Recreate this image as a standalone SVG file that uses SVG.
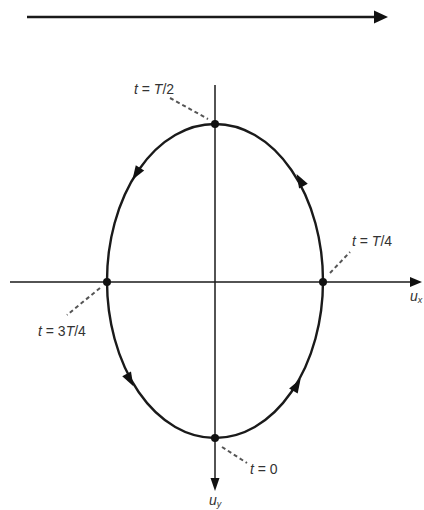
<svg xmlns="http://www.w3.org/2000/svg" width="424" height="510" viewBox="0 0 424 510">
<style>
.axis{stroke:#1a1a1a;stroke-width:1.5;fill:none}
.curve{stroke:#1a1a1a;stroke-width:2.4;fill:none}
.dash{stroke:#555;stroke-width:2;stroke-dasharray:4,3;fill:none}
.dot{fill:#111}
.lbl{font-family:"Liberation Sans",Arial,sans-serif;font-size:14px;fill:#333}
.it{font-style:italic}
.sub{font-size:9px}
.head{fill:#111}
</style>
<defs>
<path id="ah" d="M7,0 L-7,-5 L-7,5 Z"/>
</defs>
<rect width="424" height="510" fill="#fff"/>
<g id="connectors">
<line class="axis" x1="27" y1="17" x2="376" y2="17" style="stroke-width:2.4"/>
<polygon class="head" points="388,17 374,10.5 374,23.5"/>
<line class="axis" x1="10" y1="282" x2="412" y2="282"/>
<polygon class="head" points="422,282 410,277 410,287"/>
<line class="axis" x1="215" y1="85" x2="215" y2="480"/>
<polygon class="head" points="215,491 210.5,478 219.5,478"/>
<line class="dash" x1="170" y1="98" x2="208" y2="119"/>
<line class="dash" x1="330" y1="273" x2="350" y2="252"/>
<line class="dash" x1="100" y1="288" x2="67" y2="315"/>
<line class="dash" x1="222" y1="447" x2="247" y2="463"/>
</g>
<g id="ellipse">
<ellipse class="curve" cx="215" cy="281" rx="108" ry="157"/>
<use href="#ah" class="head" transform="translate(136.2,173.8) rotate(122.7)"/>
<use href="#ah" class="head" transform="translate(300,180) rotate(-119.4)"/>
<use href="#ah" class="head" transform="translate(130,380) rotate(61.1)"/>
<use href="#ah" class="head" transform="translate(297,385) rotate(-59)"/>
</g>
<g id="p-top"><circle class="dot" cx="215" cy="124" r="4"/><text class="lbl" x="134" y="94"><tspan class="it">t</tspan> = <tspan class="it">T</tspan>/2</text></g>
<g id="p-right"><circle class="dot" cx="323" cy="282" r="4"/><text class="lbl" x="352" y="246"><tspan class="it">t</tspan> = <tspan class="it">T</tspan>/4</text></g>
<g id="p-left"><circle class="dot" cx="107" cy="282" r="4"/><text class="lbl" x="38" y="336"><tspan class="it">t</tspan> = 3<tspan class="it">T</tspan>/4</text></g>
<g id="p-bottom"><circle class="dot" cx="215" cy="438" r="4"/><text class="lbl" x="250" y="474"><tspan class="it">t</tspan> = 0</text></g>
<g id="lbl-ux"><text class="lbl it" x="410" y="301">u<tspan class="sub" dy="2">x</tspan></text></g>
<g id="lbl-uy"><text class="lbl it" x="209" y="505">u<tspan class="sub" dy="2">y</tspan></text></g>
</svg>
